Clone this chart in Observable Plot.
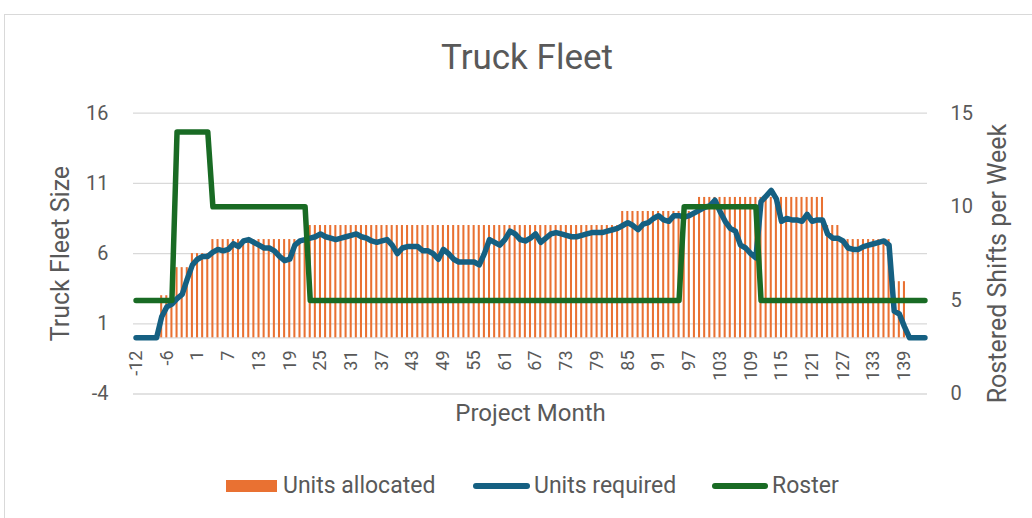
<!DOCTYPE html>
<html>
<head>
<meta charset="utf-8">
<script src="https://cdn.jsdelivr.net/npm/d3@7"></script>
<script src="https://cdn.jsdelivr.net/npm/@observablehq/plot@0.6"></script>
<style>
  html, body { margin: 0; padding: 0; background: #fff; overflow: hidden; }
  body { width: 1032px; height: 518px; position: relative; font-family: Roboto, "Open Sans", sans-serif; }
  #frame { position: absolute; left: 4px; top: 14px; width: 1100px; height: 600px; border: 1px solid #d9d9d9; box-sizing: border-box; }
  #title { position: absolute; left: 0; top: 38px; width: 1054px; text-align: center; font-size: 35px; line-height: 40px; color: #595959; }
  #chart { position: absolute; left: 0; top: 90px; }
  .leg { position: absolute; font-size: 23px; line-height: 26px; color: #595959; top: 473px; white-space: nowrap; }
  .sw { position: absolute; }
</style>
</head>
<body>
<div id="frame"></div>
<div id="title">Truck Fleet</div>
<div id="chart"></div>
<div class="sw" style="left:226px;top:480px;width:51px;height:12px;background:#E97132;"></div>
<div class="leg" style="left:283px;">Units allocated</div>
<div class="sw" style="left:473px;top:483px;width:57px;height:6px;border-radius:3px;background:#156082;"></div>
<div class="leg" style="left:534px;">Units required</div>
<div class="sw" style="left:712px;top:483px;width:56px;height:6px;border-radius:3px;background:#196B24;"></div>
<div class="leg" style="left:772px;">Roster</div>
<script>
// Categories: project months (no month 0)
const months = [
  -12,-11,-10,-9,-8,-7,-6,-5,-4,-3,-2,-1,
  1,2,3,4,5,6,7,8,9,10,11,12,13,14,15,16,17,18,19,20,
  21,22,23,24,25,26,27,28,29,30,31,32,33,34,35,36,37,38,39,40,
  41,42,43,44,45,46,47,48,49,50,51,52,53,54,55,56,57,58,59,60,
  61,62,63,64,65,66,67,68,69,70,71,72,73,74,75,76,77,78,79,80,
  81,82,83,84,85,86,87,88,89,90,91,92,93,94,95,96,97,98,99,100,
  101,102,103,104,105,106,107,108,109,110,111,112,113,114,115,116,117,118,119,120,
  121,122,123,124,125,126,127,128,129,130,131,132,133,134,135,136,137,138,139,140,
  141,142,143
];
// Units allocated (bars, left axis)
const unitsAllocated = [
  0,0,0,0,0,3,3,3,5,5,
  5,6,6,6,6,7,7,7,7,7,
  7,7,7,7,7,7,7,7,7,7,
  7,7,7,7,8,8,8,8,8,8,
  8,8,8,8,8,8,8,8,8,8,
  8,8,8,8,8,8,8,8,8,8,
  8,8,8,8,8,8,8,8,8,8,
  8,8,8,8,8,8,8,8,8,8,
  8,8,8,8,8,8,8,8,8,8,
  8,8,8,8,8,9,9,9,9,9,
  9,9,9,9,9,9,9,9,9,9,
  10,10,10,10,10,10,10,10,10,10,
  10,10,10,10,10,10,10,10,10,10,
  10,10,10,10,10,8,8,8,7,7,
  7,7,7,7,7,7,7,7,4,4,
  4,0,0,0,0
];
// Units required (line, left axis)
const unitsRequired = [
  0,0,0,0,0,1.5,2.2,2.4,2.8,3.1,
  4.2,5.2,5.6,5.8,5.8,6.1,6.3,6.2,6.3,6.7,
  6.5,6.9,7.0,6.8,6.6,6.4,6.4,6.2,5.8,5.5,
  5.6,6.6,6.9,7.0,7.1,7.2,7.4,7.2,7.1,7.0,
  7.1,7.2,7.3,7.4,7.2,7.1,6.9,6.8,6.9,7.0,
  6.6,6.0,6.4,6.5,6.5,6.5,6.2,6.2,6.0,5.6,
  6.3,6.0,5.6,5.4,5.4,5.4,5.4,5.2,6.0,7.0,
  6.8,6.6,7.0,7.6,7.4,7.0,6.9,7.1,7.4,6.8,
  7.1,7.4,7.5,7.4,7.3,7.2,7.2,7.3,7.4,7.5,
  7.5,7.5,7.6,7.7,7.8,8.0,8.2,8.0,7.7,8.1,
  8.2,8.5,8.7,8.4,8.3,8.7,8.7,8.6,8.7,8.9,
  9.1,9.3,9.4,9.8,9.0,8.3,7.8,7.6,6.6,6.4,
  6.0,5.7,9.7,10.1,10.5,9.9,8.3,8.5,8.4,8.4,
  8.3,8.8,8.3,8.4,8.4,7.4,7.1,7.1,6.9,6.4,
  6.3,6.3,6.5,6.6,6.7,6.8,6.9,6.6,1.9,1.7,
  0.8,0,0,0,0
];
// Roster (line, right axis: rostered shifts per week)
const roster = [
  5,5,5,5,5,5,5,5,14,14,
  14,14,14,14,14,10,10,10,10,10,
  10,10,10,10,10,10,10,10,10,10,
  10,10,10,10,5,5,5,5,5,5,
  5,5,5,5,5,5,5,5,5,5,
  5,5,5,5,5,5,5,5,5,5,
  5,5,5,5,5,5,5,5,5,5,
  5,5,5,5,5,5,5,5,5,5,
  5,5,5,5,5,5,5,5,5,5,
  5,5,5,5,5,5,5,5,5,5,
  5,5,5,5,5,5,5,10,10,10,
  10,10,10,10,10,10,10,10,10,10,
  10,10,5,5,5,5,5,5,5,5,
  5,5,5,5,5,5,5,5,5,5,
  5,5,5,5,5,5,5,5,5,5,
  5,5,5,5,5
];
const leftTicks = [-4, 1, 6, 11, 16];
const rightTicks = [0, 5, 10, 15];
const xTickLabels = ["-12","-6","1","7","13","19","25","31","37","43","49","55","61","67","73","79","85","91","97","103","109","115","121","127","133","139"];

const leftDomain = [-4, 16];
const rightDomain = [0, 15];
const r2l = d3.scaleLinear(rightDomain, leftDomain);
const l2r = r2l.invert;

const data = months.map((m, i) => ({
  month: String(m),
  alloc: unitsAllocated[i],
  req: unitsRequired[i],
  roster: r2l(roster[i])
}));

const grey = "#595959";
const chart = Plot.plot({
  width: 1032,
  height: 370,
  marginTop: 22.7,
  marginBottom: 66.5,
  marginLeft: 133,
  marginRight: 105,
  style: { fontFamily: "Roboto, 'Open Sans', sans-serif", background: "transparent" },
  x: { type: "band", domain: months.map(String), paddingInner: 0.6, paddingOuter: 0.3, round: false },
  y: { domain: leftDomain },
  marks: [
    Plot.gridY(leftTicks, { stroke: "#d9d9d9", strokeOpacity: 1, strokeWidth: 1.3 }),
    Plot.ruleY([0], { stroke: "#d9d9d9", strokeWidth: 1.3 }),
    Plot.barY(data, { x: "month", y: "alloc", fill: "#E97132" }),
    Plot.lineY(data, { x: "month", y: "req", stroke: "#156082", strokeWidth: 5.5, strokeLinejoin: "round", strokeLinecap: "round" }),
    Plot.lineY(data, { x: "month", y: "roster", stroke: "#196B24", strokeWidth: 5.5, strokeLinejoin: "round", strokeLinecap: "round" }),
    Plot.axisY({ ticks: leftTicks, tickFormat: d => String(d), tickSize: 0, tickPadding: 25, label: null, color: grey, fontSize: 20 }),
    Plot.axisY({ anchor: "right", ticks: rightTicks.map(r2l), tickFormat: d => String(Math.round(l2r(d))), tickSize: 0, tickPadding: 23, label: null, color: grey, fontSize: 20 }),
    Plot.axisX(xTickLabels, { anchor: "bottom", tickRotate: -90, tickSize: 0, tickPadding: 12, dy: -55.5, label: null, color: grey, fontSize: 18 }),
    Plot.text(["Truck Fleet Size"], { frameAnchor: "left", dx: -73, rotate: -90, textAnchor: "middle", fill: grey, fontSize: 25 }),
    Plot.text(["Rostered Shifts per Week"], { frameAnchor: "right", dx: 70, dy: 10, rotate: -90, textAnchor: "middle", fill: grey, fontSize: 25 }),
    Plot.text(["Project Month"], { frameAnchor: "bottom", dy: 26.5, fill: grey, fontSize: 24 })
  ]
});
document.getElementById("chart").appendChild(chart);
</script>
</body>
</html>
